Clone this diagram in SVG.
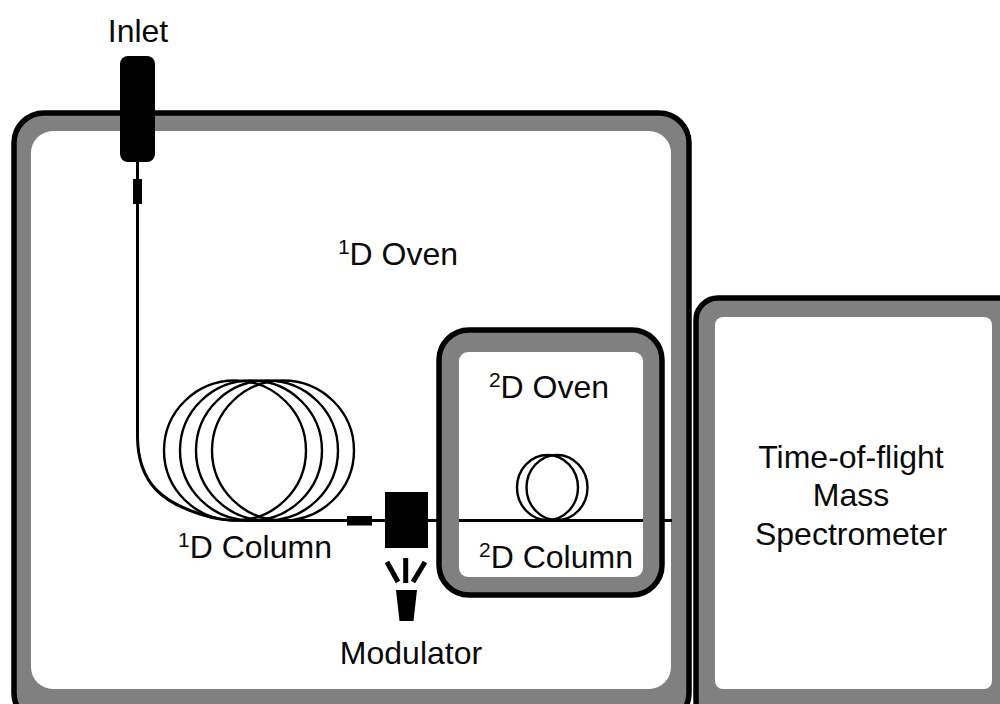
<svg xmlns="http://www.w3.org/2000/svg" width="1000" height="704" viewBox="0 0 1000 704">
<style>
text{font-family:"Liberation Sans",Arial,sans-serif;font-size:32px;fill:#0a0a0a;text-anchor:middle}
.sup{font-size:21px}
.shell{fill:#808080;stroke:#000;stroke-width:5.5}
.inner{fill:#fff}
.coil{fill:none;stroke:#000;stroke-width:2.4}
.fib{fill:none;stroke:#000;stroke-width:3}
.blk{fill:#000}
</style>
<rect width="1000" height="704" fill="#fff"/>
<g id="oven1">
<rect class="shell" x="14" y="113" width="675" height="610" rx="30"/>
<rect class="inner" x="31" y="131" width="640" height="558" rx="22"/>
<text x="398" y="265"><tspan class="sup" dy="-11">1</tspan><tspan dy="11">D Oven</tspan></text>
</g>
<g id="ms">
<rect class="shell" x="696" y="298" width="340" height="425" rx="22"/>
<rect class="inner" x="715" y="317" width="277" height="372" rx="8"/>
<text x="851" y="468">Time-of-flight</text>
<text x="851" y="506">Mass</text>
<text x="851" y="545">Spectrometer</text>
</g>
<g id="oven2">
<rect class="shell" x="439" y="330" width="223" height="265" rx="30"/>
<rect class="inner" x="459" y="352" width="184" height="225" rx="9"/>
<text x="549" y="398"><tspan class="sup" dy="-11">2</tspan><tspan dy="11">D Oven</tspan></text>
<text x="556" y="568"><tspan class="sup" dy="-11">2</tspan><tspan dy="11">D Column</tspan></text>
</g>
<g id="connectors">
<path class="fib" d="M137.500 160V437C138 485 165 503 200 514C215 519 225 520.500 245 520.500H385"/>
<path class="fib" d="M428 520.500H438"/>
<path class="fib" d="M459 520.500H643"/>
<path class="fib" d="M662 520.500H672"/>
</g>
<g id="inlet">
<rect class="blk" x="120" y="56" width="35" height="106" rx="8"/>
<rect class="blk" x="133" y="179" width="9" height="25"/>
<text x="138" y="42">Inlet</text>
</g>
<g id="column1">
<ellipse class="coil" cx="235" cy="450.500" rx="71" ry="70"/>
<ellipse class="coil" cx="251" cy="450.500" rx="71" ry="70"/>
<ellipse class="coil" cx="267" cy="450.500" rx="71" ry="70"/>
<ellipse class="coil" cx="283" cy="450.500" rx="71" ry="70"/>
<rect class="blk" x="347" y="516" width="25" height="9.500"/>
<text x="255" y="558"><tspan class="sup" dy="-11">1</tspan><tspan dy="11">D Column</tspan></text>
</g>
<g id="column2">
<ellipse class="coil" cx="547.500" cy="487.500" rx="30.500" ry="32.500"/>
<ellipse class="coil" cx="557" cy="487.500" rx="30.500" ry="32.500"/>
</g>
<g id="modulator">
<rect class="blk" x="385" y="492" width="43" height="56"/>
<path d="M387 562L398 582M405.700 558V583M425 562L413 582" fill="none" stroke="#000" stroke-width="5"/>
<path class="blk" d="M396 590H417L413.500 621H399.500Z"/>
<text x="411" y="664">Modulator</text>
</g>
</svg>
